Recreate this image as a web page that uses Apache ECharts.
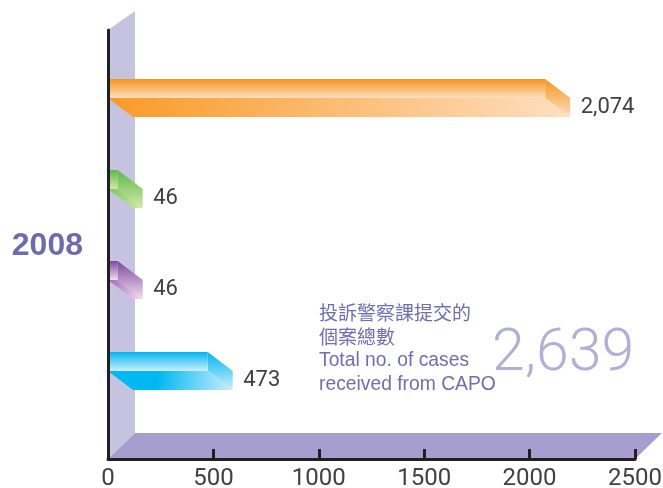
<!DOCTYPE html>
<html>
<head>
<meta charset="utf-8">
<style>html,body{margin:0;padding:0;background:#fff}#chart{width:663px;height:488px}</style>
<script src="https://cdn.jsdelivr.net/npm/echarts@6/dist/echarts.min.js"></script>
</head>
<body>
<div id="chart"></div>
<script>
// Complaint cases received, one row per case group, top to bottom
const years = ['2008'];
const rows = ['row1', 'row2', 'row3', 'row4'];
const cases = [2074, 46, 46, 473];
const totalCases = '2,639';
const totalCaption = ['投訴警察課提交的', '個案總數', 'Total no. of cases', 'received from CAPO'];
const xTicks = { min: 0, max: 2500, interval: 500 };

// Bar ramps: saturated edge, pale edge, underside start colour, where the underside starts to fade
const barColors = [
  ['#f7941d', '#fedfc0', '#f99a27', 0],
  ['#5cbb48', '#d3e8a8', '#7cc95f', 0.05],
  ['#7a4a9e', '#f3dcef', '#a071b8', 0.05],
  ['#00b6f0', '#cdeefc', '#00b9f2', 0.4]
];
const WALL = '#c6c3e1', FLOOR = '#a59ecf', INK = '#231f20';
const LATIN = '"Liberation Sans", Arial, sans-serif';
const ROBOTO = 'Roboto, "Liberation Sans", sans-serif';
const CJK = '"Noto Sans CJK TC", "Liberation Sans", sans-serif';

const vert = (a, b) => new echarts.graphic.LinearGradient(0, 0, 0, 1, [
  { offset: 0, color: a }, { offset: 1, color: b }
]);
const slant = (a, b, flat) => new echarts.graphic.LinearGradient(0, 0, 1, 1, [
  { offset: 0, color: a }, { offset: flat, color: a }, { offset: 1, color: b }
]);
const poly = (points, fill) => ({ type: 'polygon', shape: { points }, style: { fill } });

// Back wall and floor of the pseudo-3D frame, taken from the grid rectangle
function renderFrame(params) {
  const r = params.coordSys;
  const wallDx = 27, wallDy = 19, floorDx = 27, floorDy = 26;
  const l = r.x, t = r.y, b = r.y + r.height, e = r.x + r.width;
  return {
    type: 'group',
    children: [
      poly([[l, t], [l + wallDx, t - wallDy], [l + wallDx, b - floorDy], [l, b]], WALL),
      poly([[l, b], [l + floorDx, b - floorDy], [e + floorDx, b - floorDy], [e, b]], FLOOR)
    ]
  };
}

// Extruded bar: front face, slanted underside and end cap, plus the value text
function renderBar(params, api) {
  const v = api.value(0), i = api.value(1);
  const [x1, yc] = api.coord([v, i]);
  const [x0] = api.coord([0, i]);
  const faceH = 19, dx = 25, dy = 19;
  const yT = yc - faceH / 2, yB = yc + faceH / 2;
  const [c, p, under, flat] = barColors[i];
  return {
    type: 'group',
    children: [
      poly([[x0, yB], [x1, yB], [x1 + dx, yB + dy], [x0 + dx, yB + dy]], slant(under, p, flat)),
      poly([[x1, yT], [x1 + dx, yT + dy], [x1 + dx, yB + dy], [x1, yB]], vert(c, p)),
      poly([[x0, yT], [x1, yT], [x1, yB], [x0, yB]], vert(c, p)),
      {
        type: 'text',
        style: {
          x: x1 + dx + 10.5, y: yc + 19,
          text: v.toLocaleString('en-US'),
          font: '22px ' + ROBOTO, fill: '#414042',
          verticalAlign: 'middle', align: 'left'
        }
      }
    ]
  };
}

const chart = echarts.init(document.getElementById('chart'), null, { renderer: 'canvas' });
chart.setOption({
  animation: false,
  backgroundColor: '#fff',
  grid: [
    { left: 108, right: 28, top: 30, bottom: 29, outerBoundsMode: 'none' },
    { left: 108, right: 28, top: 43, height: 364, outerBoundsMode: 'none' }
  ],
  xAxis: [
    {
      gridIndex: 0, type: 'value', ...xTicks, z: 10,
      splitLine: { show: false },
      axisLine: { show: true, lineStyle: { color: INK, width: 3 } },
      axisTick: { show: true, inside: true, length: 10, lineStyle: { color: INK, width: 3 } },
      axisLabel: {
        color: '#414042', fontSize: 24, fontFamily: ROBOTO,
        margin: 8, hideOverlap: false,
        formatter: (v) => String(v)
      }
    },
    { gridIndex: 1, type: 'value', ...xTicks, show: false, splitLine: { show: false } }
  ],
  yAxis: [
    {
      gridIndex: 0, type: 'category', data: years, z: 10,
      axisLine: { show: true, lineStyle: { color: INK, width: 3 } },
      axisTick: { show: false },
      axisLabel: {
        color: '#6e6aae', fontSize: 32, fontWeight: 'bold', fontFamily: LATIN, margin: 25,
        verticalAlign: 'top', lineHeight: 4
      }
    },
    { gridIndex: 1, type: 'category', data: rows, inverse: true, show: false }
  ],
  graphic: [
    ...totalCaption.map((line, k) => ({
      type: 'text', left: 319, top: [303, 327, 351, 375][k],
      style: { text: line, fill: '#6f6db5', font: (k < 2 ? '19px ' + CJK : '19.3px ' + LATIN) }
    })),
    {
      type: 'text', left: 492, top: 326,
      style: { text: totalCases, fill: '#b3aed8', font: '300 59px ' + ROBOTO }
    }
  ],
  series: [
    { type: 'custom', xAxisIndex: 0, yAxisIndex: 0, z: 1, silent: true, data: [0], renderItem: renderFrame },
    {
      type: 'custom', xAxisIndex: 1, yAxisIndex: 1, z: 2, silent: true,
      encode: { x: 0, y: 1 },
      data: cases.map((v, i) => [v, i]),
      renderItem: renderBar
    }
  ]
});
</script>
</body>
</html>
